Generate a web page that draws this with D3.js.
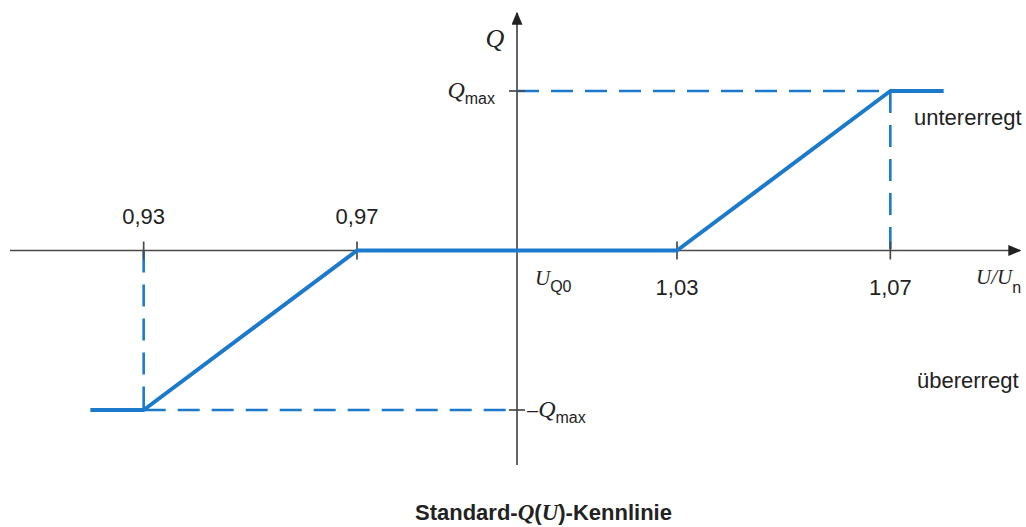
<!DOCTYPE html>
<html>
<head>
<meta charset="utf-8">
<script src="https://cdn.jsdelivr.net/npm/d3@7"></script>
<style>
  body { margin: 0; background: #fff; }
  svg text { font-family: "Liberation Sans", Arial, sans-serif; fill: #222; }
  .sym { font-family: "Liberation Serif", "Times New Roman", serif; font-style: italic; }
</style>
</head>
<body>
<script>
// Q(U) characteristic: U/Un vs Q (in units of Qmax)
const uPoints = [0.92, 0.93, 0.97, 1.03, 1.07, 1.08];
const qPoints = [-1, -1, 0, 0, 1, 1];
const tickValues = [0.93, 0.97, 1.03, 1.07];
const tickLabels = ["0,93", "0,97", "1,03", "1,07"];
const tickAbove = [true, true, false, false];

const width = 1026;
const height = 527;
const blue = '#1b7acb';
const axisColor = '#4a4a4a';

var xScale = d3.scaleLinear()
    .domain([0.97, 1.03])
    .range([357, 677]);
var yScale = d3.scaleLinear()
    .domain([-1, 1])
    .range([410, 91]);

let svg = d3.select('body')
    .append('svg')
        .attr('width', width)
        .attr('height', height);

svg.append('defs').append('marker')
    .attr('id', 'arrow')
    .attr('viewBox', '0 0 10 10')
    .attr('refX', 9).attr('refY', 5)
    .attr('markerWidth', 13).attr('markerHeight', 11)
    .attr('markerUnits', 'userSpaceOnUse')
    .attr('orient', 'auto')
    .attr('preserveAspectRatio', 'none')
  .append('path')
    .attr('d', 'M0,0 L10,5 L0,10 Z')
    .attr('fill', '#222');

let x0 = xScale(1.0), y0 = yScale(0);

// axes
svg.append('line')
    .attr('x1', 10).attr('x2', 1020)
    .attr('y1', y0).attr('y2', y0)
    .attr('stroke', axisColor).attr('stroke-width', 1.7)
    .attr('marker-end', 'url(#arrow)');
svg.append('line')
    .attr('x1', x0).attr('x2', x0)
    .attr('y1', 465).attr('y2', 13)
    .attr('stroke', axisColor).attr('stroke-width', 1.7)
    .attr('marker-end', 'url(#arrow)');

// dashed guide lines
const dash = '22,12';
let guides = [
    [[0.93, 0], [0.93, -1]],
    [[0.93, -1], [1.0, -1]],
    [[1.07, 1], [1.07, 0]],
    [[1.0, 1], [1.07, 1]]
];
svg.selectAll('.guide')
    .data(guides)
    .enter().append('line')
    .attr('class', 'guide')
    .attr('x1', d => xScale(d[0][0])).attr('y1', d => yScale(d[0][1]))
    .attr('x2', d => xScale(d[1][0])).attr('y2', d => yScale(d[1][1]))
    .attr('stroke', blue).attr('stroke-width', 2.6)
    .attr('stroke-dasharray', dash);

// ticks on x axis
svg.selectAll('.xtick')
    .data(tickValues)
    .enter().append('line')
    .attr('class', 'xtick')
    .attr('x1', d => xScale(d)).attr('x2', d => xScale(d))
    .attr('y1', y0 - 9).attr('y2', y0 + 9)
    .attr('stroke', axisColor).attr('stroke-width', 1.7);

// ticks on y axis
svg.selectAll('.ytick')
    .data([-1, 1])
    .enter().append('line')
    .attr('class', 'ytick')
    .attr('x1', x0 - 8).attr('x2', x0 + 8)
    .attr('y1', d => yScale(d)).attr('y2', d => yScale(d))
    .attr('stroke', axisColor).attr('stroke-width', 1.7);

// characteristic curve
let data = uPoints.map((u, i) => [u, qPoints[i]]);
var line = d3.line()
    .x(d => xScale(d[0]))
    .y(d => yScale(d[1]));
svg.append('path')
    .datum(data)
    .attr('fill', 'none')
    .attr('stroke', blue)
    .attr('stroke-width', 4)
    .attr('stroke-linejoin', 'round')
    .attr('d', line);

// tick labels
svg.selectAll('.xlabel')
    .data(tickValues)
    .enter().append('text')
    .attr('class', 'xlabel')
    .attr('x', d => xScale(d))
    .attr('y', (d, i) => tickAbove[i] ? y0 - 27 : y0 + 44)
    .attr('text-anchor', 'middle')
    .attr('font-size', 22)
    .text((d, i) => tickLabels[i]);

// axis symbols
svg.append('text').attr('class', 'sym')
    .attr('x', 495).attr('y', 47)
    .attr('text-anchor', 'middle')
    .attr('font-size', 26)
    .text('Q');

let qmax = svg.append('text')
    .attr('x', x0 - 22).attr('y', yScale(1) + 7)
    .attr('text-anchor', 'end');
qmax.append('tspan').attr('class', 'sym').attr('font-size', 24).text('Q');
qmax.append('tspan').attr('font-size', 16).attr('dy', 6).text('max');

let qmin = svg.append('text')
    .attr('x', x0 + 10).attr('y', yScale(-1) + 7);
qmin.append('tspan').attr('font-size', 20).text('–');
qmin.append('tspan').attr('class', 'sym').attr('font-size', 24).text('Q');
qmin.append('tspan').attr('font-size', 16).attr('dy', 6).text('max');

let uq0 = svg.append('text')
    .attr('x', x0 + 18).attr('y', y0 + 34);
uq0.append('tspan').attr('class', 'sym').attr('font-size', 21).text('U');
uq0.append('tspan').attr('font-size', 16).attr('dy', 7).text('Q0');

let uun = svg.append('text')
    .attr('x', 976).attr('y', y0 + 33);
uun.append('tspan').attr('class', 'sym').attr('font-size', 21).text('U/U');
uun.append('tspan').attr('font-size', 16).attr('dy', 9).text('n');

svg.append('text')
    .attr('x', 914).attr('y', 125)
    .attr('font-size', 22)
    .text('untererregt');
svg.append('text')
    .attr('x', 917).attr('y', 388)
    .attr('font-size', 22)
    .text('übererregt');

// title
let title = svg.append('text')
    .attr('x', 415).attr('y', 520)
    .attr('font-size', 22)
    .attr('font-weight', 'bold');
title.append('tspan').text('Standard-');
title.append('tspan').attr('class', 'sym').attr('font-size', 23).text('Q');
title.append('tspan').text('(');
title.append('tspan').attr('class', 'sym').attr('font-size', 23).text('U');
title.append('tspan').text(')-Kennlinie');
</script>
</body>
</html>
